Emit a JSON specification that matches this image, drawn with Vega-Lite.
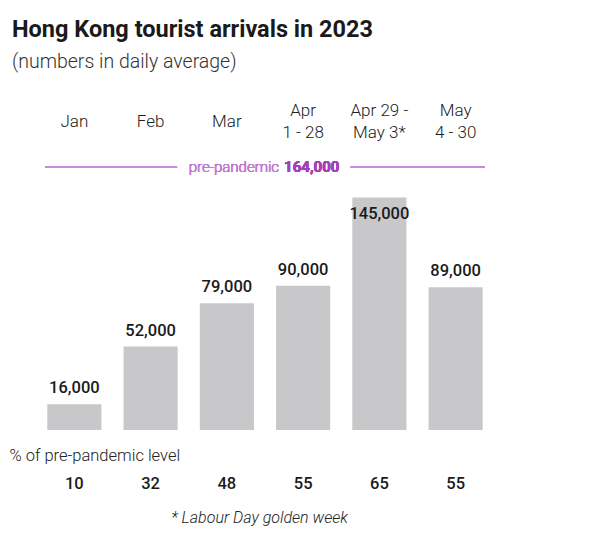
{
  "$schema": "https://vega.github.io/schema/vega-lite/v6.json",
  "autosize": {"type": "none"},
  "padding": {"left": 45, "top": 167, "right": 115, "bottom": 109},
  "width": 440,
  "height": 263,
  "background": "white",
  "config": {"view": {"stroke": null}, "font": "Roboto"},
  "title": {
    "text": "Hong Kong tourist arrivals in 2023",
    "subtitle": "(numbers in daily average)",
    "anchor": "start",
    "frame": "group",
    "dx": -33,
    "offset": 30,
    "font": "Roboto",
    "fontSize": 23.5,
    "fontWeight": "bold",
    "color": "#1a1a1a",
    "subtitleFont": "Roboto",
    "subtitleFontSize": 19.5,
    "subtitleFontWeight": 300,
    "subtitleColor": "#333333",
    "subtitlePadding": 11
  },
  "data": {
    "values": [
      {"period": "Jan", "value": 16000, "pct": 10},
      {"period": "Feb", "value": 52000, "pct": 32},
      {"period": "Mar", "value": 79000, "pct": 48},
      {"period": "Apr|1 - 28", "value": 90000, "pct": 55},
      {"period": "Apr 29 -|May 3*", "value": 145000, "pct": 65},
      {"period": "May|4 - 30", "value": 89000, "pct": 55}
    ]
  },
  "transform": [{"calculate": "datum.period + '#' + datum.pct", "as": "key"}],
  "resolve": {"axis": {"x": "independent"}},
  "layer": [
    {
      "mark": {"type": "bar", "color": "#c8c8ca"},
      "encoding": {
        "x": {
          "field": "key", "type": "nominal", "sort": null,
          "scale": {"paddingInner": 0.29, "paddingOuter": 0.03},
          "axis": {
            "orient": "top", "domain": false, "ticks": false, "tickSize": 0,
            "labelAngle": 0,
            "labelPadding": {"condition": {"test": "indexof(datum.value, '|') >= 0", "value": 57}, "value": 46},
            "labelBaseline": "middle",
            "labelFontSize": 17, "labelFontWeight": 300, "labelColor": "#222222",
            "labelLineHeight": 22,
            "labelExpr": "split(split(datum.value, '#')[0], '|')",
            "title": "% of pre-pandemic level",
            "titleX": -36, "titleY": 288, "titleAlign": "left", "titleBaseline": "middle",
            "titleFontSize": 16.5, "titleFontWeight": 300, "titleColor": "#222222", "titleAngle": 0
          }
        },
        "y": {"field": "value", "type": "quantitative", "scale": {"domain": [0, 164000], "nice": false}, "axis": null}
      }
    },
    {
      "transform": [{"filter": "datum.value < 140000"}],
      "mark": {"type": "text", "baseline": "alphabetic", "dy": -11, "fontSize": 16.5, "fontWeight": 500, "color": "#1a1a1a"},
      "encoding": {
        "x": {
          "field": "key", "type": "nominal", "sort": null,
          "axis": {
            "orient": "bottom", "domain": false, "ticks": false, "tickSize": 0,
            "labelAngle": 0, "labelPadding": 53, "labelBaseline": "middle",
            "labelFontSize": 16.5, "labelFontWeight": 500, "labelColor": "#1a1a1a",
            "labelExpr": "split(datum.value, '#')[1]",
            "title": "* Labour Day golden week",
            "titleX": 214, "titleY": 87, "titleAlign": "center", "titleBaseline": "middle",
            "titleFontSize": 16, "titleFontWeight": 300, "titleFontStyle": "italic", "titleColor": "#222222"
          }
        },
        "y": {"field": "value", "type": "quantitative"},
        "text": {"field": "value", "type": "quantitative", "format": ","}
      }
    },
    {
      "transform": [{"filter": "datum.value >= 140000"}],
      "mark": {"type": "text", "baseline": "alphabetic", "dy": 22, "fontSize": 16.5, "fontWeight": 500, "color": "#1a1a1a"},
      "encoding": {
        "x": {"field": "key", "type": "nominal", "sort": null, "axis": null},
        "y": {"field": "value", "type": "quantitative"},
        "text": {"field": "value", "type": "quantitative", "format": ","}
      }
    },
    {
      "mark": {"type": "rule", "color": "#c98bd4", "strokeWidth": 1.3},
      "encoding": {"y": {"datum": 164000}}
    },
    {
      "mark": {"type": "text", "align": "right", "baseline": "middle", "dx": 3, "fontSize": 15, "fontWeight": 300, "color": "white", "stroke": "white", "strokeWidth": 24},
      "encoding": {
        "x": {"datum": "Apr|1 - 28#55", "bandPosition": 0, "axis": null},
        "y": {"datum": 164000},
        "text": {"value": "pre-pandemic"}
      }
    },
    {
      "mark": {"type": "text", "align": "left", "baseline": "middle", "dx": 8, "fontSize": 15, "fontWeight": "bold", "color": "white", "stroke": "white", "strokeWidth": 22},
      "encoding": {
        "x": {"datum": "Apr|1 - 28#55", "bandPosition": 0, "axis": null},
        "y": {"datum": 164000},
        "text": {"value": "164,000"}
      }
    },
    {
      "mark": {"type": "text", "align": "right", "baseline": "middle", "dx": 3, "fontSize": 15, "fontWeight": 300, "color": "#c27ad0"},
      "encoding": {
        "x": {"datum": "Apr|1 - 28#55", "bandPosition": 0, "axis": null},
        "y": {"datum": 164000},
        "text": {"value": "pre-pandemic"}
      }
    },
    {
      "mark": {"type": "text", "align": "left", "baseline": "middle", "dx": 8, "fontSize": 15, "fontWeight": "bold", "color": "#a640b9"},
      "encoding": {
        "x": {"datum": "Apr|1 - 28#55", "bandPosition": 0, "axis": null},
        "y": {"datum": 164000},
        "text": {"value": "164,000"}
      }
    }
  ]
}
